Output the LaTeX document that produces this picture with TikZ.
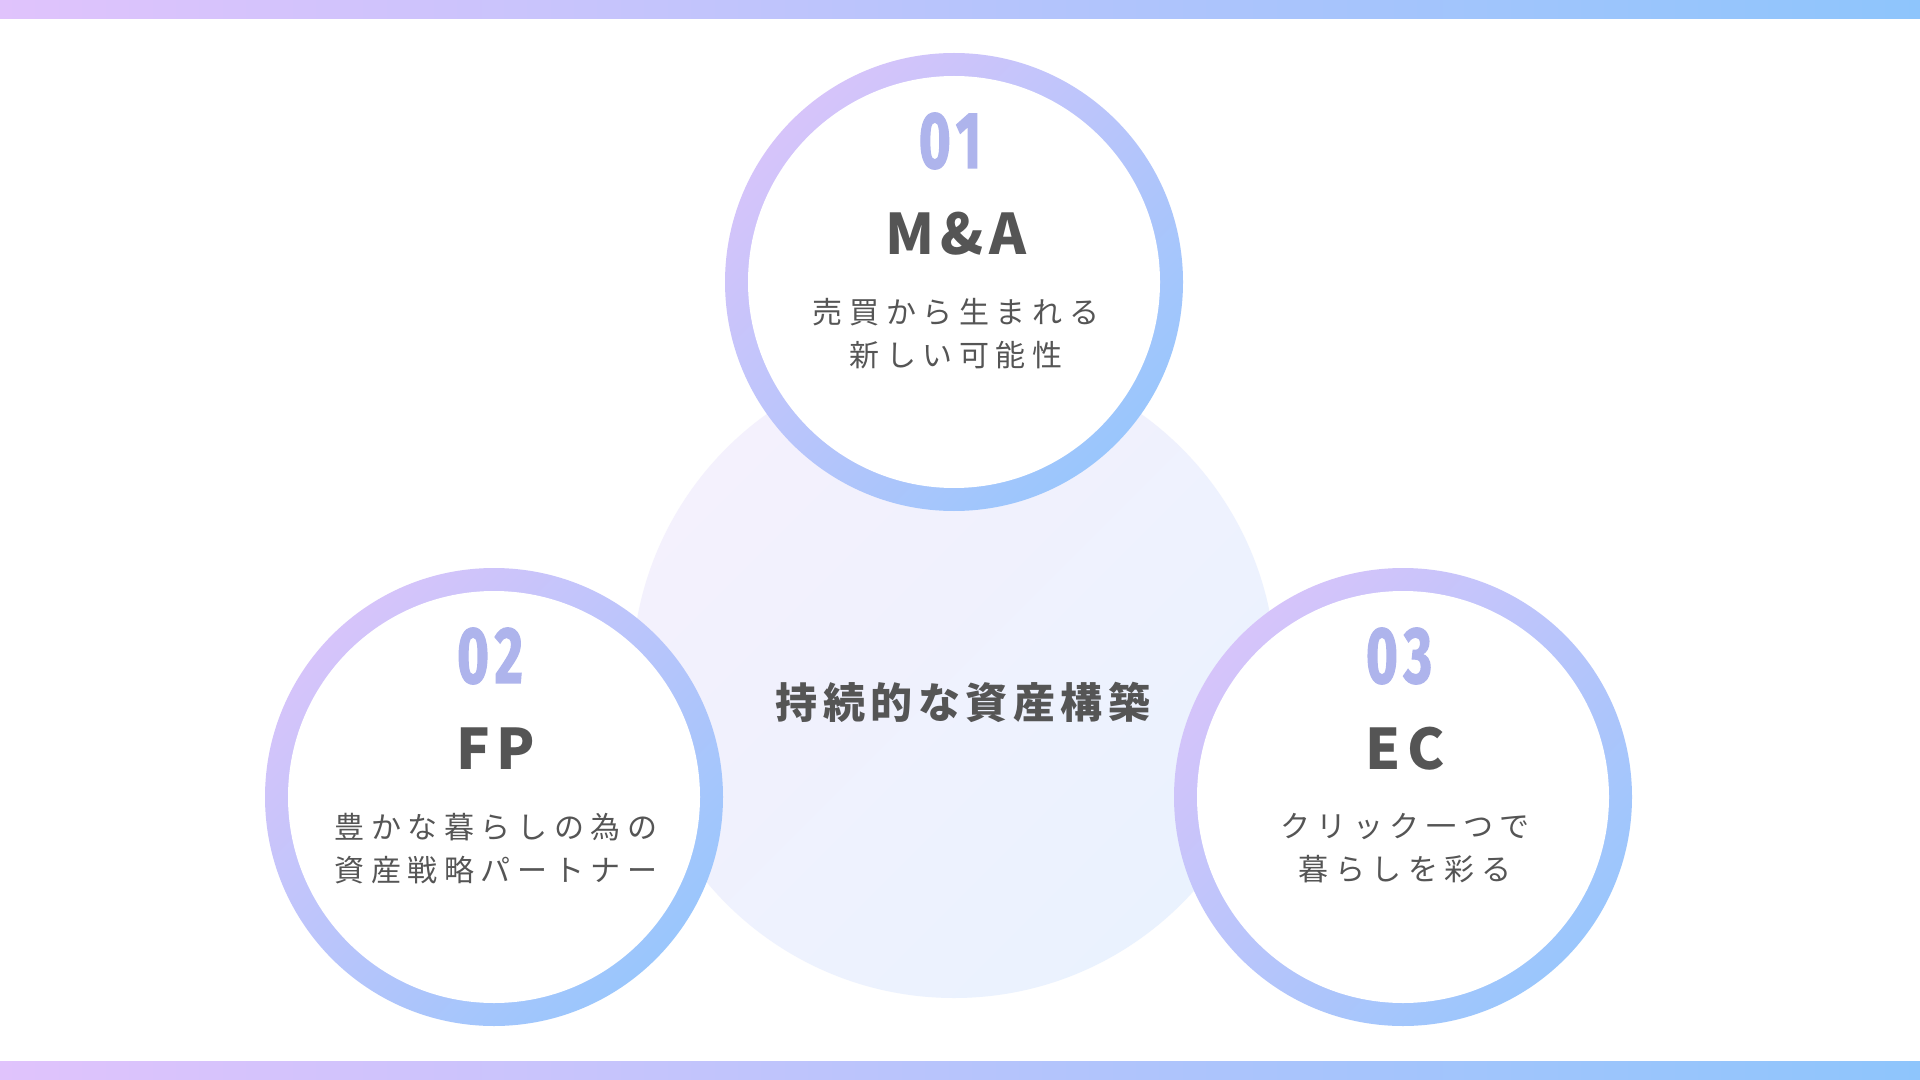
\documentclass[tikz,border=0pt]{standalone}
\usepackage{fontspec}
\setmainfont{Noto Sans CJK JP}
\newfontfamily\numfont[FakeStretch=0.68, FakeBold=1.6]{Fira Sans}

\definecolor{barlav}{HTML}{E0C3FC}
\definecolor{barblue}{HTML}{8EC5FC}
\definecolor{ringlav}{HTML}{D6C4FA}
\definecolor{ringblue}{HTML}{9AC6FC}
\definecolor{corelav}{HTML}{F4F1FD}
\definecolor{coreblue}{HTML}{EAF2FE}
\definecolor{numblue}{HTML}{AEB4EC}
\definecolor{textgray}{HTML}{555555}

\tikzset{
  ringnode/.style={circle, inner sep=0pt, minimum size=229pt, top color=ringlav, bottom color=ringblue, shading angle=45},
  holenode/.style={circle, inner sep=0pt, minimum size=206pt, fill=white},
  corenode/.style={circle, inner sep=0pt, minimum size=322pt, top color=corelav, bottom color=coreblue, shading angle=45},
  numtext/.style={inner sep=0pt, text=numblue, font=\numfont\bfseries\fontsize{40pt}{40pt}\selectfont\addfontfeatures{LetterSpace=8}},
  headtext/.style={inner sep=0pt, text=textgray, font=\bfseries\fontsize{28pt}{30pt}\selectfont\addfontfeatures{LetterSpace=11}},
  bodytext/.style={inner sep=0pt, align=center, text=textgray, font=\fontsize{15pt}{21.5pt}\selectfont\addfontfeatures{LetterSpace=22}},
  coretext/.style={inner sep=0pt, text=textgray, font=\bfseries\fontsize{21pt}{24pt}\selectfont\addfontfeatures{LetterSpace=13}}
}

\begin{document}
\begin{tikzpicture}[x=0.5pt, y=-0.5pt]
    \useasboundingbox (0,0) rectangle (1920,1080);
    \fill [white] (0,0) rectangle (1920,1080);
    \shade [left color=barlav, right color=barblue] (0,0) rectangle (1920,19);
    \shade [left color=barlav, right color=barblue] (0,1061) rectangle (1920,1080);

    \node [corenode] (core) at (954,676) {};
    \node [coretext] (coretitle) at (963,702) {持続的な資産構築};

    % 01
    \node [ringnode] (ma) at (954,282) {};
    \node [holenode] (mahole) at (ma) {};
    \node [numtext] (manum) at (950,141) {01};
    \node [headtext] (mahead) at (956,234) {M\&A};
    \node [bodytext] (mabody) at (956,333.5) {売買から生まれる\\新しい可能性};

    % 02
    \node [ringnode] (fp) at (494,797) {};
    \node [holenode] (fphole) at (fp) {};
    \node [numtext] (fpnum) at (490,656) {02};
    \node [headtext] (fphead) at (496,749) {FP};
    \node [bodytext] (fpbody) at (496,848.5) {豊かな暮らしの為の\\資産戦略パートナー};

    % 03
    \node [ringnode] (ec) at (1403,797) {};
    \node [holenode] (echole) at (ec) {};
    \node [numtext] (ecnum) at (1399,656) {03};
    \node [headtext] (echead) at (1405,749) {EC};
    \node [bodytext] (ecbody) at (1405,848.5) {クリック一つで\\暮らしを彩る};
\end{tikzpicture}
\end{document}
